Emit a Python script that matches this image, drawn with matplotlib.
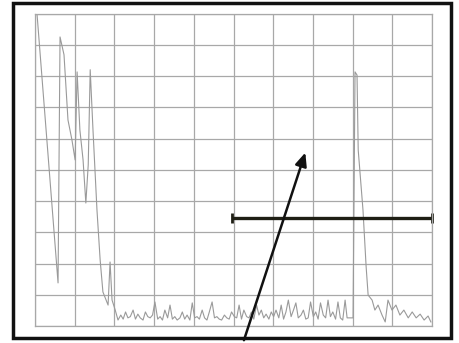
import numpy as np
import matplotlib
matplotlib.use("Agg")
from matplotlib import pyplot as plt
from matplotlib.patches import Rectangle

# trace in grid units (10 x 10 divisions)
# early echoes
head_x = [0.05, 0.58, 0.63, 0.73, 0.83, 0.93, 1.01, 1.06, 1.13, 1.21, 1.28,
          1.34, 1.39, 1.46, 1.51, 1.56, 1.64, 1.71, 1.79, 1.84, 1.89, 1.94, 2.02]
head_y = [10.0, 1.38, 9.26, 8.69, 6.60, 5.96, 5.32, 8.14, 6.28, 5.32, 3.94,
          5.16, 8.21, 6.28, 5.00, 3.72, 2.12, 1.09, 0.83, 0.67, 2.05, 0.83, 0.51]

# noise floor between echoes
floor_x = [2.09, 2.16, 2.22, 2.28, 2.34, 2.40, 2.47, 2.53, 2.59, 2.65, 2.72,
           2.78, 2.84, 2.90, 2.96, 3.02, 3.09, 3.15, 3.21, 3.27, 3.34, 3.40,
           3.46, 3.52, 3.58, 3.65, 3.71, 3.77, 3.83, 3.90, 3.96, 4.02, 4.08,
           4.14, 4.21, 4.27, 4.33, 4.39, 4.46, 4.52, 4.58, 4.64, 4.70, 4.77,
           4.83, 4.89, 4.95, 5.02, 5.08, 5.14, 5.20, 5.26, 5.33, 5.39, 5.45,
           5.51, 5.58, 5.64, 5.70, 5.76, 5.82, 5.89, 5.95, 6.01, 6.07, 6.14,
           6.20, 6.26, 6.32, 6.38, 6.45, 6.51, 6.57, 6.63, 6.70, 6.76, 6.82,
           6.88, 6.94, 7.01, 7.07, 7.13, 7.19, 7.26, 7.32, 7.38, 7.44, 7.50,
           7.57, 7.63, 7.69, 7.75, 7.81, 7.86, 7.99]
floor_y = [0.19, 0.35, 0.22, 0.45, 0.26, 0.30, 0.51, 0.22, 0.38, 0.26, 0.19,
           0.45, 0.30, 0.26, 0.35, 0.77, 0.22, 0.30, 0.19, 0.51, 0.26, 0.67,
           0.22, 0.30, 0.19, 0.26, 0.45, 0.22, 0.35, 0.19, 0.74, 0.26, 0.30,
           0.22, 0.51, 0.26, 0.19, 0.45, 0.77, 0.26, 0.30, 0.22, 0.19, 0.35,
           0.26, 0.22, 0.45, 0.30, 0.26, 0.67, 0.22, 0.51, 0.30, 0.26, 0.45,
           0.22, 0.67, 0.35, 0.51, 0.26, 0.38, 0.22, 0.45, 0.30, 0.51, 0.26,
           0.67, 0.22, 0.45, 0.83, 0.30, 0.51, 0.74, 0.26, 0.35, 0.51, 0.22,
           0.26, 0.77, 0.30, 0.45, 0.22, 0.74, 0.35, 0.26, 0.83, 0.30, 0.45,
           0.22, 0.77, 0.26, 0.19, 0.83, 0.26, 0.26]

# far echo and tail
tail_x = [8.01, 8.06, 8.11, 8.14, 8.26, 8.34, 8.39, 8.49, 8.56, 8.64, 8.74,
          8.82, 8.89, 8.99, 9.09, 9.19, 9.29, 9.40, 9.50, 9.60, 9.70, 9.80,
          9.90, 9.97]
tail_y = [0.26, 8.14, 8.04, 5.64, 3.72, 1.89, 0.99, 0.83, 0.51, 0.67, 0.35,
          0.13, 0.83, 0.51, 0.67, 0.35, 0.51, 0.26, 0.45, 0.26, 0.38, 0.19,
          0.32, 0.13]

trace_x = np.array(head_x + floor_x + tail_x)
trace_y = np.array(head_y + floor_y + tail_y)

# span marker and pointer
span_y = 3.46
span_x0, span_x1 = 4.96, 10.0
arrow_tail = (5.24, -0.54)
arrow_head = (6.83, 5.64)

fig = plt.figure(figsize=(4.59, 3.43), dpi=100)
ax = fig.add_axes([0.0763, 0.0496, 0.865, 0.910])

ax.set_xlim(0, 10)
ax.set_ylim(0, 10)
ax.set_xticks(np.arange(0, 11, 1))
ax.set_yticks(np.arange(0, 11, 1))
ax.grid(True, color='#a8a8a8', lw=0.9)
ax.tick_params(length=0, labelbottom=False, labelleft=False)
for s in ax.spines.values():
    s.set_color('#a8a8a8')
    s.set_linewidth(0.9)

ax.plot(trace_x, trace_y, color='#9a9a9a', lw=0.8)

# horizontal span bar with end caps
ax.plot([span_x0, span_x1], [span_y, span_y], color='#1e1e14', lw=2.4,
        solid_capstyle='butt', clip_on=False)
ax.plot([span_x0, span_x1], [span_y, span_y], ls='none', marker='|',
        ms=7, mew=2, color='#1e1e14', clip_on=False)

ax.annotate('', xy=arrow_head, xytext=arrow_tail,
            arrowprops=dict(arrowstyle='-|>,head_width=0.35,head_length=0.8',
                            color='#111111', lw=1.8),
            annotation_clip=False)

# outer frame
fig.patches.append(Rectangle((0.028, 0.0146), 0.954, 0.977, transform=fig.transFigure,
                             fill=False, ec='#111111', lw=2.5))

plt.savefig('out.png', dpi=100)
